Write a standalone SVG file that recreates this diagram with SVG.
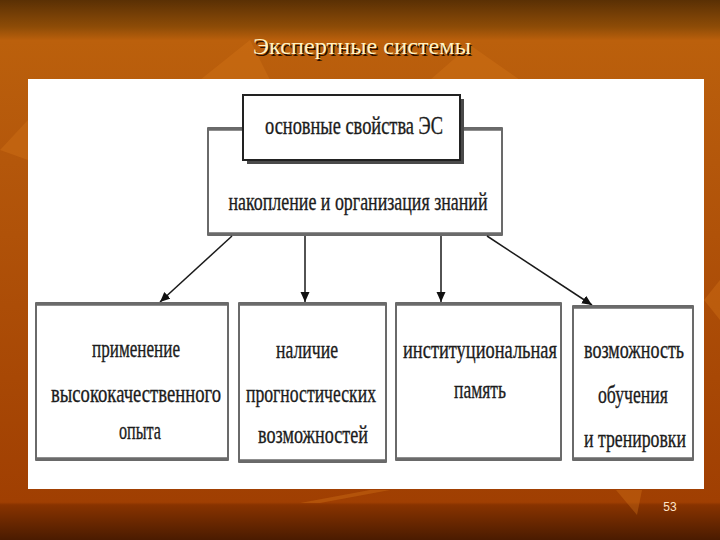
<svg xmlns="http://www.w3.org/2000/svg" width="720" height="540" viewBox="0 0 720 540">
<defs>
<linearGradient id="bg" x1="0" y1="0" x2="0" y2="1">
<stop offset="0" stop-color="#5a3004"/>
<stop offset="0.05" stop-color="#8e4c07"/>
<stop offset="0.075" stop-color="#bb600c"/>
<stop offset="0.3" stop-color="#b4570b"/>
<stop offset="0.7" stop-color="#a84805"/>
<stop offset="0.93" stop-color="#a03f02"/>
<stop offset="0.935" stop-color="#883300"/>
<stop offset="1" stop-color="#4a1b00"/>
</linearGradient>
<marker id="ah" markerUnits="userSpaceOnUse" markerWidth="11" markerHeight="10" refX="10" refY="4.5" orient="auto">
<path d="M0,0 L10,4.5 L0,9 z" fill="#111"/>
</marker>
<style>
.t{font-family:"Liberation Serif","DejaVu Serif",serif;font-size:26px;fill:#1c1c1c;stroke:#1c1c1c;stroke-width:0.35;text-anchor:middle}
.box{fill:#fff;stroke:#3a3a3a;stroke-width:1.5}
.band{stroke:#6a6a6a;stroke-width:3.5}
.con{stroke:#1a1a1a;stroke-width:1.5;fill:none;marker-end:url(#ah)}
</style>
</defs>
<rect x="0" y="0" width="720" height="540" fill="url(#bg)"/>
<g opacity="0.35" fill="#d8781a">
<polygon points="200,80 250,40 270,80"/>
<polygon points="430,80 470,45 520,80"/>
<polygon points="616,490 642,490 637,515"/>
<polygon points="300,503 370,490 390,490 320,503"/>
<polygon points="0,150 28,120 28,160"/>
<polygon points="704,300 720,280 720,320"/>
</g>
<text x="362" y="54" font-family="Liberation Serif, serif" font-size="23" fill="#2a1000" text-anchor="middle" textLength="218" lengthAdjust="spacingAndGlyphs" transform="translate(1.5,1.5)">Экспертные системы</text>
<text x="362" y="54" font-family="Liberation Serif, serif" font-size="23" fill="#fff2c4" text-anchor="middle" textLength="218" lengthAdjust="spacingAndGlyphs">Экспертные системы</text>
<rect x="28" y="79" width="676" height="410" fill="#fff"/>
<g id="node-knowledge">
<rect class="box" x="208" y="128" width="294" height="107"/>
<line class="band" x1="208" y1="234" x2="502" y2="234" stroke-width="4"/>
<line class="band" x1="208" y1="129" x2="502" y2="129" stroke-width="2.5"/>
<text class="t" x="358" y="210" textLength="259" lengthAdjust="spacingAndGlyphs">накопление и организация знаний</text>
</g>
<g id="node-main">
<rect x="247" y="99" width="217" height="65" fill="#4a4a4a"/>
<rect x="243" y="95" width="217" height="65" fill="#fff" stroke="#222" stroke-width="2"/>
<text class="t" x="354" y="134" textLength="178" lengthAdjust="spacingAndGlyphs">основные свойства ЭС</text>
</g>
<g id="connectors">
<line class="con" x1="232" y1="236" x2="160" y2="302"/>
<line class="con" x1="305" y1="236" x2="305" y2="302"/>
<line class="con" x1="441" y1="236" x2="441" y2="302"/>
<line class="con" x1="487" y1="236" x2="592" y2="305"/>
</g>
<g id="node-experience">
<rect class="box" x="36" y="303" width="192" height="157"/>
<line class="band" x1="36" y1="304" x2="228" y2="304"/>
<line class="band" x1="36" y1="459" x2="228" y2="459"/>
<text class="t" x="136" y="357" textLength="88" lengthAdjust="spacingAndGlyphs">применение</text>
<text class="t" x="136" y="402" textLength="170" lengthAdjust="spacingAndGlyphs">высококачественного</text>
<text class="t" x="140" y="439" textLength="42" lengthAdjust="spacingAndGlyphs">опыта</text>
</g>
<g id="node-forecast">
<rect class="box" x="239" y="303" width="147" height="159"/>
<line class="band" x1="239" y1="304" x2="386" y2="304"/>
<line class="band" x1="239" y1="461" x2="386" y2="461"/>
<text class="t" x="307" y="358" textLength="62" lengthAdjust="spacingAndGlyphs">наличие</text>
<text class="t" x="311" y="402" textLength="130" lengthAdjust="spacingAndGlyphs">прогностических</text>
<text class="t" x="313" y="443" textLength="110" lengthAdjust="spacingAndGlyphs">возможностей</text>
</g>
<g id="node-memory">
<rect class="box" x="396" y="303" width="165" height="157"/>
<line class="band" x1="396" y1="304" x2="561" y2="304"/>
<line class="band" x1="396" y1="459" x2="561" y2="459"/>
<text class="t" x="480" y="358" textLength="154" lengthAdjust="spacingAndGlyphs">институциональная</text>
<text class="t" x="480" y="398" textLength="52" lengthAdjust="spacingAndGlyphs">память</text>
</g>
<g id="node-training">
<rect class="box" x="573" y="306" width="120" height="154"/>
<line class="band" x1="573" y1="307" x2="693" y2="307"/>
<line class="band" x1="573" y1="459" x2="693" y2="459"/>
<text class="t" x="634" y="358" textLength="100" lengthAdjust="spacingAndGlyphs">возможность</text>
<text class="t" x="633" y="403" textLength="70" lengthAdjust="spacingAndGlyphs">обучения</text>
<text class="t" x="635" y="447" textLength="102" lengthAdjust="spacingAndGlyphs">и тренировки</text>
</g>
<text x="670" y="511" font-family="Liberation Sans, sans-serif" font-size="12" fill="#ffe6c8" text-anchor="middle">53</text>
</svg>
